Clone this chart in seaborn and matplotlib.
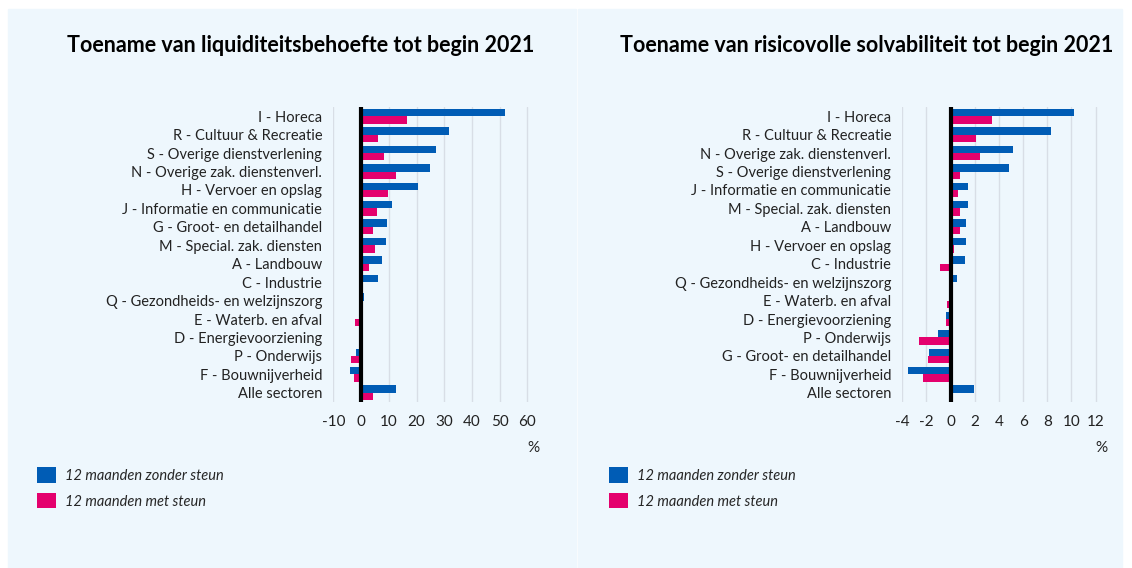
import pandas as pd
import matplotlib.pyplot as plt
import seaborn as sns
from matplotlib.patches import Rectangle, Patch

# data
series = ["12 maanden zonder steun", "12 maanden met steun"]
colors = ["#005cb5", "#e4006d"]

liq_sectors = ["I - Horeca", "R - Cultuur & Recreatie", "S - Overige dienstverlening",
               "N - Overige zak. dienstenverl.", "H - Vervoer en opslag",
               "J - Informatie en communicatie", "G - Groot- en detailhandel",
               "M - Special. zak. diensten", "A - Landbouw", "C - Industrie",
               "Q - Gezondheids- en welzijnszorg", "E - Waterb. en afval",
               "D - Energievoorziening", "P - Onderwijs", "F - Bouwnijverheid",
               "Alle sectoren"]
liq_zonder = [52.0, 31.7, 27.0, 24.7, 20.5, 11.3, 9.4, 8.9, 7.5, 6.1, 1.0, 0.0, -0.6, -1.7, -4.1, 12.7]
liq_met = [16.4, 6.1, 8.4, 12.7, 9.9, 5.7, 4.2, 5.2, 2.9, -0.7, 0.0, -2.2, -0.6, -3.6, -2.7, 4.2]

solv_sectors = ["I - Horeca", "R - Cultuur & Recreatie", "N - Overige zak. dienstenverl.",
                "S - Overige dienstverlening", "J - Informatie en communicatie",
                "M - Special. zak. diensten", "A - Landbouw", "H - Vervoer en opslag",
                "C - Industrie", "Q - Gezondheids- en welzijnszorg", "E - Waterb. en afval",
                "D - Energievoorziening", "P - Onderwijs", "G - Groot- en detailhandel",
                "F - Bouwnijverheid", "Alle sectoren"]
solv_zonder = [10.25, 8.3, 5.2, 4.8, 1.4, 1.4, 1.3, 1.3, 1.15, 0.5, 0.0, -0.4, -1.05, -1.8, -3.5, 1.9]
solv_met = [3.4, 2.1, 2.4, 0.8, 0.6, 0.75, 0.75, 0.3, -0.85, 0.0, -0.3, -0.4, -2.6, -1.9, -2.25, 0.15]

titles = ["Toename van liquiditeitsbehoefte tot begin 2021",
          "Toename van risicovolle solvabiliteit tot begin 2021"]
liq_ticks = [-10, 0, 10, 20, 30, 40, 50, 60]
solv_ticks = [-4, -2, 0, 2, 4, 6, 8, 10, 12]

bg = "#eef7fd"
W, H = 1132, 568

sns.set_style("white")
plt.rcParams['font.family'] = ['Lato', 'DejaVu Sans']

fig = plt.figure(figsize=(W / 100, H / 100), dpi=100)
fig.patch.set_facecolor("white")
fig.patches.append(Rectangle((8 / W, 0), (576 - 8) / W, (H - 9) / H,
                             transform=fig.transFigure, color=bg, zorder=-5))
fig.patches.append(Rectangle((578 / W, 0), (1122 - 578) / W, (H - 9) / H,
                             transform=fig.transFigure, color=bg, zorder=-5))


def make_df(sectors, zonder, met):
    return pd.DataFrame({
        "sector": sectors * 2,
        "waarde": zonder + met,
        "reeks": [series[0]] * len(sectors) + [series[1]] * len(sectors),
    })


panels = [
    (make_df(liq_sectors, liq_zonder, liq_met), liq_ticks, (-10, 62), 333.3, 533.0, 40, 301),
    (make_df(solv_sectors, solv_zonder, solv_met), solv_ticks, (-4, 12.45), 902.3, 1101.0, 612, 867),
]

for i, (df, ticks, xlim, x0, x1, left, tcx) in enumerate(panels):
    ax = fig.add_axes([x0 / W, (H - 402) / H, (x1 - x0) / W, 295 / H])
    ax.set_facecolor(bg)
    sns.barplot(data=df, y="sector", x="waarde", hue="reeks", orient="h",
                palette=colors, saturation=1, width=0.8, ax=ax, legend=False,
                edgecolor="none", linewidth=0)
    ax.set_xlim(*xlim)
    ax.set_ylim(15.5, -0.5)
    ax.set_xticks(ticks)
    ax.set_xticklabels([str(t) for t in ticks])
    ax.set_xlabel("")
    ax.set_ylabel("")
    for s in ax.spines.values():
        s.set_visible(False)
    ax.grid(axis="x", color="#d8dee6", linewidth=1)
    ax.set_axisbelow(True)
    ax.axvline(0, color="black", linewidth=3, zorder=5)
    ax.tick_params(axis="x", length=0, labelsize=11, pad=9, colors="#222222")
    ax.tick_params(axis="y", length=4, color="#bbbbbb", labelsize=10.5, pad=4,
                   labelcolor="#222222")
    ax.text(1.0, -0.155, "%", transform=ax.transAxes, ha="center", va="center",
            fontsize=11, color="#222222")
    fig.text(tcx / W, (H - 45) / H, titles[i],
             ha="center", va="center", fontsize=15.5, fontweight="bold", color="black")
    handles = [Patch(facecolor=c, edgecolor="none") for c in colors]
    fig.legend(handles, series, loc="upper left",
               bbox_to_anchor=((left - 16) / W, (H - 454) / H),
               frameon=False, handlelength=1.3, handleheight=1.25,
               labelspacing=0.7, handletextpad=0.6,
               prop={"style": "italic", "size": 10.5})

fig.savefig("out.png", dpi=100, facecolor="white")
